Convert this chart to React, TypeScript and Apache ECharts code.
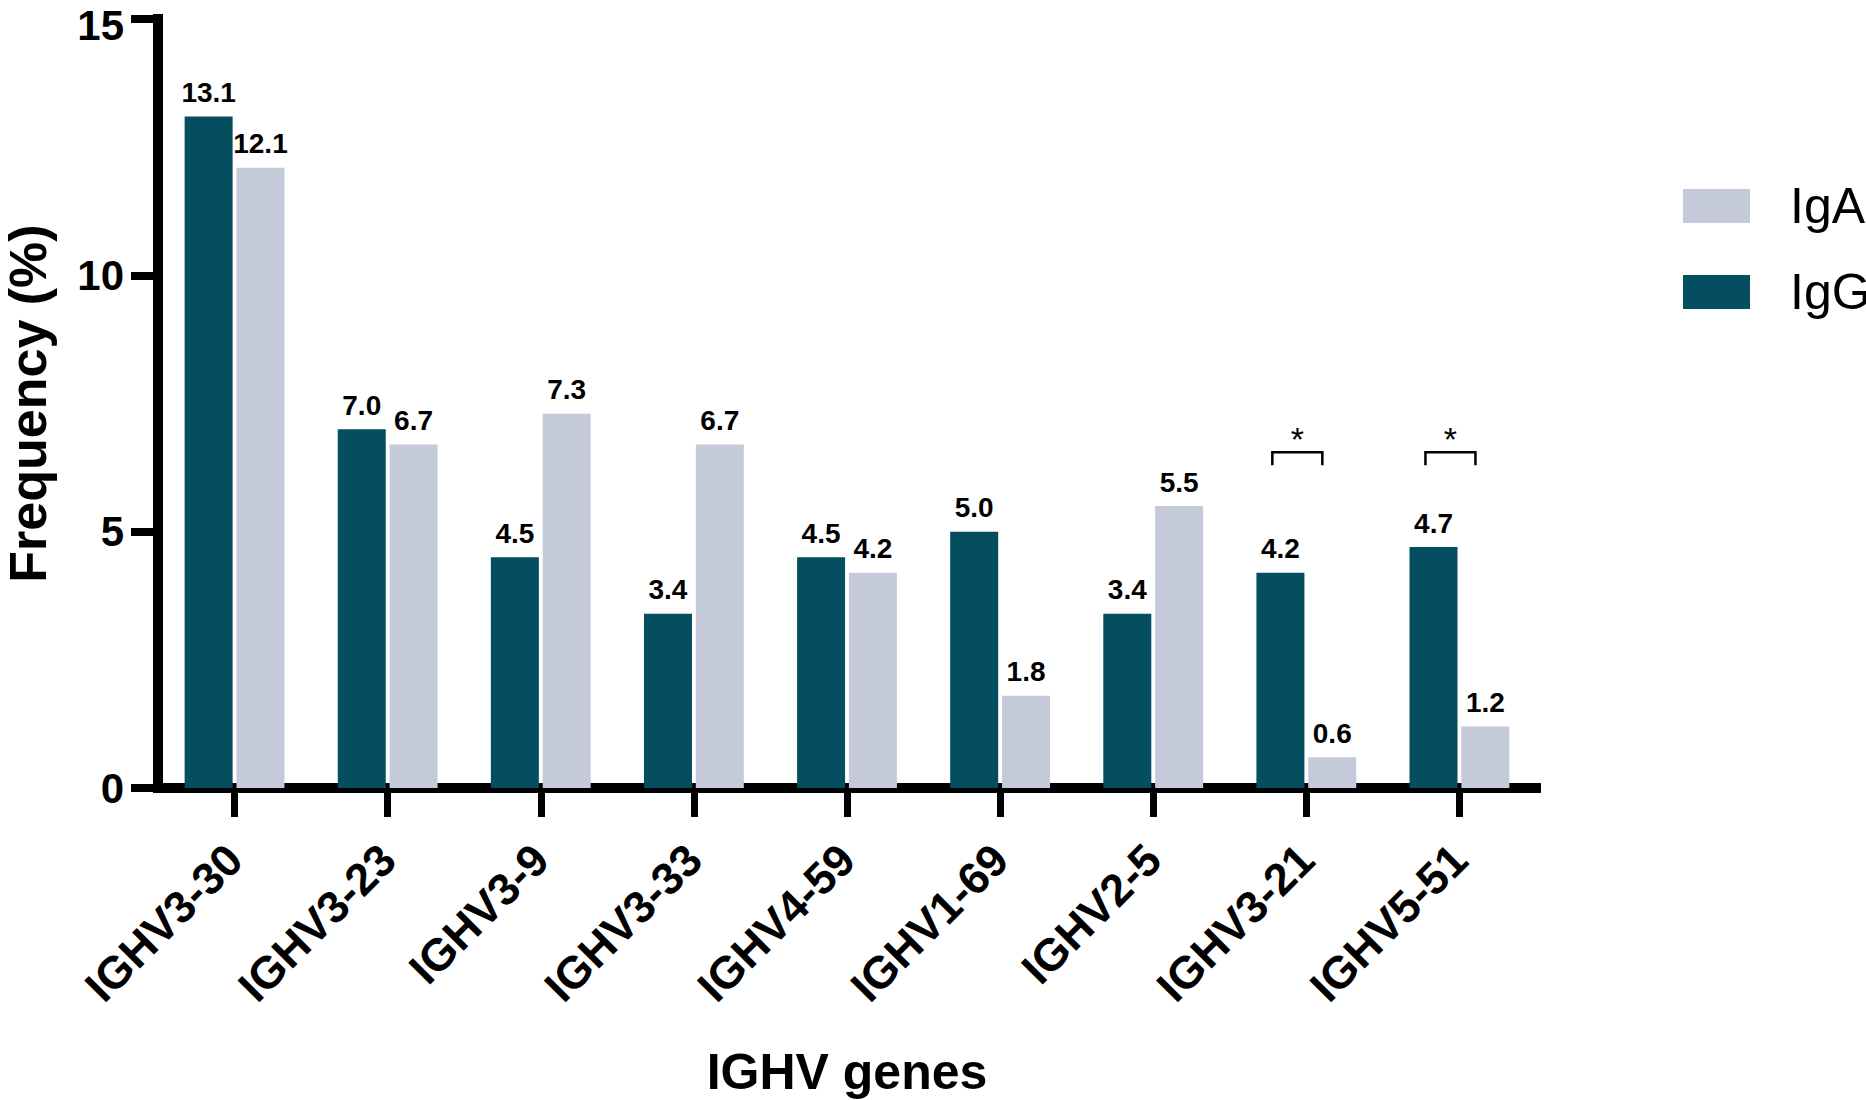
import React, { useEffect, useRef } from "react";
import * as echarts from "echarts";

const categories = [
  "IGHV3-30",
  "IGHV3-23",
  "IGHV3-9",
  "IGHV3-33",
  "IGHV4-59",
  "IGHV1-69",
  "IGHV2-5",
  "IGHV3-21",
  "IGHV5-51",
];
const igG = [13.1, 7.0, 4.5, 3.4, 4.5, 5.0, 3.4, 4.2, 4.7];
const igA = [12.1, 6.7, 7.3, 6.7, 4.2, 1.8, 5.5, 0.6, 1.2];
const significance = [
  [7, 6.55],
  [8, 6.55],
];
const yTicks = { min: 0, max: 15, interval: 5 };

const FONT = "'Liberation Sans', Arial, Helvetica, sans-serif";
const DARK = "#044E5F";
const LIGHT = "#C4CAD9";

export default function App() {
  const ref = useRef<HTMLDivElement>(null);
  useEffect(() => {
    if (!ref.current) return;
    const chart = echarts.init(ref.current, null, { renderer: "svg" });
    const labelCfg = {
      show: true,
      position: "top",
      distance: 10,
      fontFamily: FONT,
      fontWeight: "bold",
      fontSize: 28,
      color: "#000",
      formatter: (p: any) => Number(p.value).toFixed(1),
    };
    const yLabelFont = {
      fontFamily: FONT,
      fontWeight: "bold",
      fontSize: 42,
      lineHeight: 32,
      color: "#000",
    };
    chart.setOption({
      animation: false,
      backgroundColor: "#fff",
      textStyle: { fontFamily: FONT },
      grid: {
        left: 158,
        right: 330,
        top: 19,
        bottom: 312,
        containLabel: false,
        outerBoundsMode: "none",
      },
      legend: {
        data: ["IgA", "IgG"],
        orient: "vertical",
        left: 1678,
        top: 174,
        itemWidth: 67,
        itemHeight: 34,
        itemGap: 32,
        icon: "rect",
        textStyle: {
          fontFamily: FONT,
          fontSize: 50,
          lineHeight: 54,
          color: "#000",
          padding: [0, 0, 0, 35],
        },
      },
      xAxis: {
        type: "category",
        data: categories,
        name: "IGHV genes",
        nameLocation: "middle",
        nameGap: 259,
        nameTextStyle: { fontFamily: FONT, fontWeight: "bold", fontSize: 50, color: "#000" },
        axisLine: { show: true, lineStyle: { color: "#000", width: 10, cap: "square" } },
        axisTick: { show: true, alignWithLabel: true, length: 29, lineStyle: { color: "#000", width: 7 } },
        axisLabel: {
          rotate: 45,
          margin: 64,
          interval: 0,
          fontFamily: FONT,
          fontWeight: "bold",
          fontSize: 45,
          color: "#000",
        },
        splitLine: { show: false },
      },
      yAxis: {
        type: "value",
        min: yTicks.min,
        max: yTicks.max,
        interval: yTicks.interval,
        name: "Frequency (%)",
        nameLocation: "middle",
        nameGap: 108,
        nameTextStyle: {
          fontFamily: FONT,
          fontWeight: "bold",
          fontSize: 52,
          lineHeight: 44,
          color: "#000",
        },
        axisLine: { show: true, lineStyle: { color: "#000", width: 10, cap: "square" } },
        axisTick: { show: true, length: 27, lineStyle: { color: "#000", width: 8 } },
        axisLabel: {
          margin: 34,
          ...yLabelFont,
          formatter: (v: number) => (v === yTicks.max ? "{top|" + v + "}" : String(v)),
          rich: {
            top: { ...yLabelFont, lineHeight: 20, padding: [12, 0, 0, 0] },
          },
        },
        splitLine: { show: false },
      },
      series: [
        {
          name: "IgG",
          type: "bar",
          data: igG,
          barWidth: 48,
          barGap: "8%",
          itemStyle: { color: DARK },
          label: labelCfg,
        },
        {
          name: "IgA",
          type: "bar",
          data: igA,
          barWidth: 48,
          barGap: "8%",
          itemStyle: { color: LIGHT },
          label: labelCfg,
        },
        {
          type: "custom",
          data: significance,
          silent: true,
          z: 5,
          renderItem: (params: any, api: any) => {
            const p = api.coord([api.value(0), api.value(1)]);
            const cx = p[0] - 9;
            const y = p[1];
            const hw = 25;
            const leg = 13;
            return {
              type: "group",
              children: [
                {
                  type: "polyline",
                  shape: {
                    points: [
                      [cx - hw, y + leg],
                      [cx - hw, y],
                      [cx + hw, y],
                      [cx + hw, y + leg],
                    ],
                  },
                  style: { stroke: "#000", lineWidth: 2.5, fill: "none" },
                },
                {
                  type: "text",
                  style: {
                    text: "*",
                    x: cx,
                    y: y + 4,
                    align: "center",
                    verticalAlign: "bottom",
                    fontSize: 34,
                    fontFamily: FONT,
                    fill: "#000",
                  },
                },
              ],
            };
          },
        },
      ],
    });
    return () => chart.dispose();
  }, []);
  return (
    <div
      ref={ref}
      style={{ position: "fixed", left: 0, top: 0, width: 1866, height: 1100, background: "#fff" }}
    />
  );
}
